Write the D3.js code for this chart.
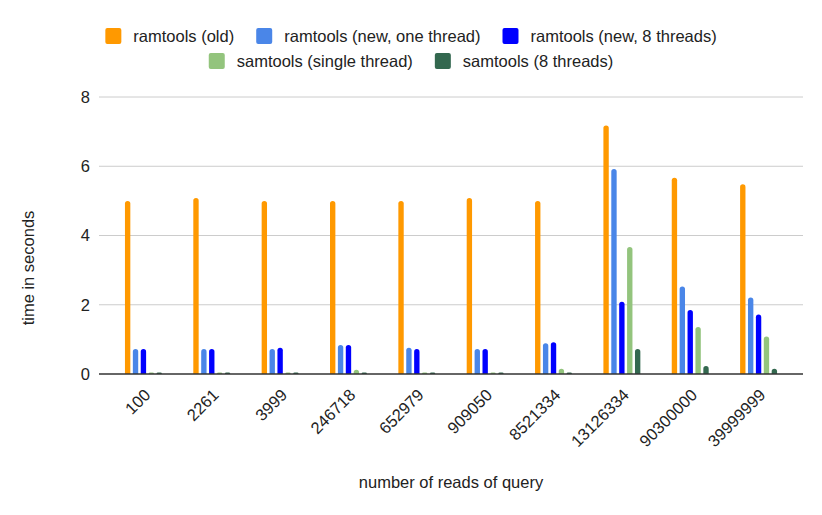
<!DOCTYPE html>
<html>
<head>
<meta charset="utf-8">
<script src="https://cdn.jsdelivr.net/npm/d3@7"></script>
<style>
  body { margin: 0; background: #fff; }
  text { font-family: "Liberation Sans", Arial, sans-serif; fill: #222; }
</style>
</head>
<body>
<svg width="822" height="515"></svg>
<script>
// Data
var categories = ["100", "2261", "3999", "246718", "652979", "909050", "8521334", "13126334", "90300000", "39999999"];
var seriesNames = ["ramtools (old)", "ramtools (new, one thread)", "ramtools (new, 8 threads)", "samtools (single thread)", "samtools (8 threads)"];
var ramOld = [5.0, 5.08, 5.0, 5.0, 5.0, 5.08, 5.0, 7.18, 5.67, 5.48];
var ramNewOne = [0.72, 0.72, 0.72, 0.84, 0.76, 0.72, 0.89, 5.92, 2.53, 2.21];
var ramNew8 = [0.72, 0.72, 0.76, 0.84, 0.72, 0.72, 0.92, 2.09, 1.85, 1.72];
var samSingle = [0.04, 0.04, 0.04, 0.12, 0.04, 0.04, 0.15, 3.67, 1.36, 1.08];
var sam8 = [0.04, 0.04, 0.04, 0.04, 0.04, 0.04, 0.04, 0.72, 0.23, 0.15];
var yTicks = [0, 2, 4, 6, 8];

var colors = ["#ff9900", "#4a86e8", "#0000ff", "#93c47d", "#33684f"];
var allSeries = [ramOld, ramNewOne, ramNew8, samSingle, sam8];

var svg = d3.select("svg");
var plotLeft = 99, plotRight = 803, plotTop = 97, plotBottom = 374;
var fontSize = "16.5px";

var x0 = d3.scaleBand()
    .domain(categories)
    .range([plotLeft, plotRight])
    .paddingInner(0)
    .paddingOuter(0.15);

var x1 = d3.scaleBand()
    .domain(d3.range(seriesNames.length))
    .range([x0.bandwidth() / 2 - 21, x0.bandwidth() / 2 + 21])
    .padding(0.32);

var y = d3.scaleLinear()
    .domain([0, 8])
    .range([plotBottom, plotTop]);

// Gridlines
svg.append("g")
    .selectAll("line")
    .data(yTicks.filter(function(d) { return d > 0; }))
    .enter().append("line")
    .attr("x1", plotLeft).attr("x2", plotRight)
    .attr("y1", function(d) { return y(d); })
    .attr("y2", function(d) { return y(d); })
    .style("stroke", "#cccccc")
    .style("stroke-width", 1);

// Y tick labels
svg.append("g")
    .selectAll("text")
    .data(yTicks)
    .enter().append("text")
    .attr("x", 90)
    .attr("y", function(d) { return y(d); })
    .attr("dy", "0.36em")
    .attr("text-anchor", "end")
    .style("font-size", fontSize)
    .text(function(d) { return d; });

// Rounded-top bar path
function barPath(bx, by, w, h) {
    var r = Math.min(w / 2, h);
    return "M" + bx + "," + (by + h) +
        "V" + (by + r) +
        "Q" + bx + "," + by + " " + (bx + r) + "," + by +
        "H" + (bx + w - r) +
        "Q" + (bx + w) + "," + by + " " + (bx + w) + "," + (by + r) +
        "V" + (by + h) + "Z";
}

// Bars
var groups = svg.append("g")
    .selectAll("g")
    .data(categories)
    .enter().append("g")
    .attr("transform", function(d) { return "translate(" + x0(d) + ",0)"; });

groups.selectAll("path")
    .data(function(d, i) {
        return allSeries.map(function(s, k) { return { k: k, v: s[i] }; });
    })
    .enter().append("path")
    .attr("d", function(d) {
        var h = Math.max(y(0) - y(d.v), 1);
        return barPath(x1(d.k), y(0) - h, x1.bandwidth(), h);
    })
    .style("fill", function(d) { return colors[d.k]; });

// Baseline
svg.append("line")
    .attr("x1", plotLeft).attr("x2", plotRight)
    .attr("y1", y(0)).attr("y2", y(0))
    .style("stroke", "#333")
    .style("stroke-width", 1.3);

// X tick labels
svg.append("g")
    .selectAll("text")
    .data(categories)
    .enter().append("text")
    .attr("text-anchor", "end")
    .attr("transform", function(d) {
        return "translate(" + (x0(d) + x0.bandwidth() / 2 + 8) + ",396) rotate(-45)";
    })
    .style("font-size", fontSize)
    .text(function(d) { return d; });

// Axis titles
svg.append("text")
    .attr("x", (plotLeft + plotRight) / 2)
    .attr("y", 488)
    .attr("text-anchor", "middle")
    .style("font-size", fontSize)
    .text("number of reads of query");

svg.append("text")
    .attr("transform", "translate(34,268) rotate(-90)")
    .attr("text-anchor", "middle")
    .style("font-size", fontSize)
    .text("time in seconds");

// Legend
var rows = [[0, 1, 2], [3, 4]];
var rowY = [36, 61];
rows.forEach(function(row, ri) {
    var g = svg.append("g");
    var cx = 0;
    row.forEach(function(k, j) {
        g.append("rect")
            .attr("x", cx).attr("y", rowY[ri] - 8)
            .attr("width", 16).attr("height", 16)
            .attr("rx", 2)
            .style("fill", colors[k]);
        var t = g.append("text")
            .attr("x", cx + 28).attr("y", rowY[ri])
            .attr("dy", "0.36em")
            .style("font-size", fontSize)
            .text(seriesNames[k]);
        cx += 28 + t.node().getComputedTextLength();
        if (j < row.length - 1) cx += 22;
    });
    g.attr("transform", "translate(" + (411 - cx / 2) + ",0)");
});
</script>
</body>
</html>
